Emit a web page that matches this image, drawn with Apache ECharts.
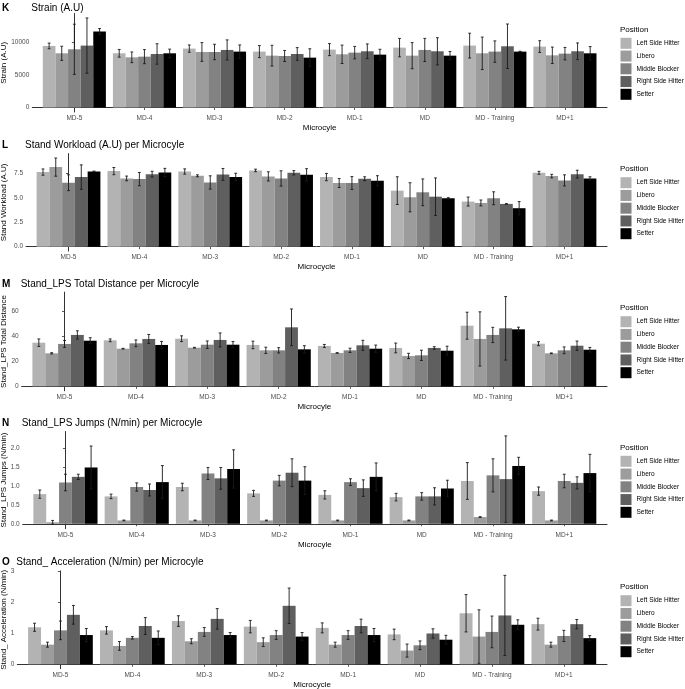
<!DOCTYPE html>
<html><head><meta charset="utf-8">
<script src="https://cdn.jsdelivr.net/npm/echarts@6.0.0/dist/echarts.min.js"></script>
<style>html,body{margin:0;padding:0;background:#fff}#c{width:685px;height:689px}</style>
</head><body><div id="c"></div>
<script>
// ---------------- DATA ----------------
const categories = ['MD-5', 'MD-4', 'MD-3', 'MD-2', 'MD-1', 'MD', 'MD - Training', 'MD+1'];
const positions = ['Left Side Hitter', 'Libero', 'Middle Blocker', 'Right Side Hitter', 'Setter'];

// K: Strain (A.U) — rows = positions, cols = microcycles
const strainMean = [
  [9440, 8310, 9030, 8570, 8875, 9180, 9490, 9340],
  [8310, 7695, 8515, 7950, 8157, 7950, 8310, 8000],
  [8926, 7797, 8515, 7900, 8413, 8825, 8570, 8260],
  [9490, 8208, 8825, 8208, 8620, 8620, 9390, 8620],
  [11645, 8310, 8570, 7645, 8105, 7950, 8570, 8310]
];
const strainSd = [
  [435, 590, 560, 920, 925, 1410, 1900, 900],
  [1080, 820, 1435, 1590, 1410, 2000, 2485, 1260],
  [3845, 1080, 1180, 845, 950, 1770, 1640, 950],
  [4235, 1565, 1540, 975, 1130, 2080, 3410, 1280],
  [460, 640, 1025, 1360, 820, 640, 50, 1030]
];
const strainTicks = [0, 5000, 10000];
const strainTickLabels = ['0', '5000', '10000'];

// L: Stand Workload (A.U)
const workloadMean = [
  [7.64, 7.74, 7.70, 7.81, 7.13, 5.74, 4.62, 7.57],
  [8.15, 6.99, 7.26, 7.20, 6.52, 5.06, 4.48, 7.23],
  [6.55, 6.92, 6.58, 6.99, 6.52, 5.57, 4.96, 6.79],
  [7.13, 7.43, 7.40, 7.57, 6.96, 5.12, 4.38, 7.43],
  [7.70, 7.60, 7.13, 7.36, 6.75, 4.96, 3.94, 6.99]
];
const workloadSd = [
  [0.32, 0.37, 0.27, 0.13, 0.37, 1.42, 0.46, 0.15],
  [0.93, 0.24, 0.10, 0.47, 0.46, 1.49, 0.30, 0.18],
  [0.81, 0.68, 0.68, 0.78, 0.66, 1.37, 0.66, 0.57],
  [1.25, 0.29, 0.61, 0.22, 0.20, 1.92, 0.03, 0.40],
  [0.04, 0.42, 0.39, 0.63, 0.52, 0.06, 0.68, 0.17]
];
const workloadTicks = [0, 2.5, 5, 7.5];
const workloadTickLabels = ['0.0', '2.5', '5.0', '7.5'];

// M: Stand_LPS Total Distance
const distanceMean = [
  [34.9, 36.8, 38.1, 33.1, 32.3, 30.7, 48.5, 34.1],
  [26.4, 30.1, 30.9, 28.8, 26.7, 24.3, 37.9, 26.4],
  [33.9, 34.4, 33.3, 28.8, 28.8, 24.8, 41.1, 28.8],
  [41.1, 37.9, 37.1, 47.2, 32.8, 30.7, 46.4, 32.5],
  [36.5, 33.1, 33.3, 29.6, 30.1, 28.5, 45.6, 29.3]
];
const distanceSd = [
  [3.0, 1.1, 2.3, 3.0, 1.2, 3.9, 10.8, 1.6],
  [0.5, 0.3, 0.3, 2.5, 0.2, 2.1, 21.7, 0.3],
  [2.8, 2.7, 3.0, 2.1, 1.7, 4.1, 6.1, 2.7],
  [3.3, 3.6, 5.6, 14.7, 4.0, 1.0, 25.4, 3.7],
  [2.4, 2.8, 2.5, 2.9, 2.9, 3.6, 1.7, 1.8]
];
const distanceTicks = [0, 20, 40, 60];
const distanceTickLabels = ['0', '20', '40', '60'];

// N: Stand_LPS Jumps (N/min)
const jumpsMean = [
  [0.79, 0.73, 0.98, 0.81, 0.77, 0.71, 1.14, 0.87],
  [0.04, 0.09, 0.09, 0.09, 0.09, 0.09, 0.18, 0.09],
  [1.10, 0.98, 1.34, 1.15, 1.11, 0.73, 1.29, 1.14],
  [1.25, 0.90, 1.21, 1.36, 0.95, 0.73, 1.19, 1.09],
  [1.50, 1.11, 1.46, 1.15, 1.25, 0.94, 1.54, 1.35]
];
const jumpsSd = [
  [0.11, 0.06, 0.10, 0.08, 0.11, 0.10, 0.49, 0.11],
  [0.05, 0.01, 0.01, 0.01, 0.01, 0.01, 0.01, 0.01],
  [0.22, 0.11, 0.16, 0.14, 0.09, 0.10, 0.44, 0.18],
  [0.07, 0.16, 0.29, 0.37, 0.22, 0.23, 1.15, 0.16],
  [0.57, 0.44, 0.51, 0.37, 0.37, 0.22, 0.23, 0.50]
];
const jumpsTicks = [0, 0.5, 1, 1.5, 2];
const jumpsTickLabels = ['0.0', '0.5', '1.0', '1.5', '2.0'];

// O: Stand_ Acceleration (N/min)
const accelMean = [
  [1.19, 1.09, 1.39, 1.21, 1.17, 0.96, 1.64, 1.29],
  [0.63, 0.59, 0.74, 0.71, 0.63, 0.44, 0.89, 0.63],
  [1.09, 0.85, 1.04, 0.94, 0.94, 0.61, 1.04, 0.91],
  [1.59, 1.23, 1.46, 1.88, 1.23, 0.99, 1.57, 1.29],
  [0.94, 0.85, 0.94, 0.89, 0.94, 0.79, 1.27, 0.84]
];
const accelSd = [
  [0.13, 0.12, 0.17, 0.20, 0.16, 0.17, 0.60, 0.19],
  [0.08, 0.14, 0.08, 0.14, 0.08, 0.21, 0.86, 0.08],
  [0.30, 0.04, 0.14, 0.14, 0.14, 0.14, 0.51, 0.18],
  [0.30, 0.27, 0.33, 0.57, 0.22, 0.15, 1.29, 0.15],
  [0.21, 0.22, 0.08, 0.13, 0.21, 0.14, 0.16, 0.08]
];
const accelTicks = [0, 1, 2, 3];
const accelTickLabels = ['0', '1', '2', '3'];

// ---------------- STYLE / LAYOUT ----------------
const colors = ['#B3B3B3', '#9C9C9C', '#828282', '#5F5F5F', '#000000'];
const FONT = '"Liberation Sans", Arial, Helvetica, sans-serif';
const W = 685, H = 689;
const plotRight = 607;

const panels = [
  {tag: 'K', title: 'Strain (A.U)', yName: 'Strain (A.U)', xName: 'Microcyle',
   mean: strainMean, sd: strainSd, ticks: strainTicks, tickLabels: strainTickLabels,
   left: 32.3, top: 13.5, axisY: 112, titleY: 7, legTitleY: 29.3, legTop: 37.8},
  {tag: 'L', title: 'Stand Workload (A.U) per Microcyle', yName: 'Stand Workload (A.U)', xName: 'Microcycle',
   mean: workloadMean, sd: workloadSd, ticks: workloadTicks, tickLabels: workloadTickLabels,
   left: 26, top: 153.6, axisY: 251.1, titleY: 144.3, legTitleY: 168.3, legTop: 177.2},
  {tag: 'M', title: 'Stand_LPS Total Distance per Microcyle', yName: 'Stand_LPS Total Distance', xName: 'Microcyle',
   mean: distanceMean, sd: distanceSd, ticks: distanceTicks, tickLabels: distanceTickLabels,
   left: 21.7, top: 292.1, axisY: 390.8, titleY: 283.3, legTitleY: 307.7, legTop: 316.2},
  {tag: 'N', title: 'Stand_LPS Jumps (N/min) per Microcyle', yName: 'Stand_LPS Jumps (N/min)', xName: 'Microcyle',
   mean: jumpsMean, sd: jumpsSd, ticks: jumpsTicks, tickLabels: jumpsTickLabels,
   left: 22.7, top: 431.5, axisY: 528.6, titleY: 422.3, legTitleY: 447.3, legTop: 455.8},
  {tag: 'O', title: 'Stand_ Acceleration (N/min) per Microcyle', yName: 'Stand_ Acceleration (N/min)', xName: 'Microcycle',
   mean: accelMean, sd: accelSd, ticks: accelTicks, tickLabels: accelTickLabels,
   left: 17.3, top: 570.9, axisY: 668.7, titleY: 561.7, legTitleY: 586.7, legTop: 595.2}
];

const BAR_W = 0.18;          // dodge width 0.9 / 5
const CAP_HALF = 0.02;
const offsets = [-0.36, -0.18, 0, 0.18, 0.36];

function yRange(mean, sd) {
  let hi = 0, lo = 0;
  for (let k = 0; k < mean.length; k++) for (let i = 0; i < mean[k].length; i++) {
    hi = Math.max(hi, mean[k][i] + sd[k][i], mean[k][i]);
    lo = Math.min(lo, mean[k][i] - sd[k][i]);
  }
  const r = hi - lo;
  return [lo - 0.05 * r, hi + 0.05 * r];
}

function makeRender(k) {
  return function (params, api) {
    const x = api.value(0) + offsets[k];
    const m = api.value(1), s = api.value(2);
    const top = api.coord([x, m]);
    const base = api.coord([x, 0]);
    const hi = api.coord([x, m + s]);
    const lo = api.coord([x, m - s]);
    const w = api.size([BAR_W, 0])[0];
    const c = api.size([CAP_HALF, 0])[0];
    const es = {stroke: '#1a1a1a', lineWidth: 0.9};
    return {
      type: 'group',
      children: [
        {type: 'rect', shape: {x: top[0] - w / 2, y: Math.min(top[1], base[1]), width: w, height: Math.abs(base[1] - top[1])},
         style: {fill: colors[k]}},
        {type: 'line', shape: {x1: hi[0], y1: hi[1], x2: lo[0], y2: lo[1]}, style: es},
        {type: 'line', shape: {x1: hi[0] - c, y1: hi[1], x2: hi[0] + c, y2: hi[1]}, style: es},
        {type: 'line', shape: {x1: lo[0] - c, y1: lo[1], x2: lo[0] + c, y2: lo[1]}, style: es}
      ]
    };
  };
}

const option = {
  animation: false,
  backgroundColor: '#ffffff',
  textStyle: {fontFamily: FONT},
  title: [], legend: [], grid: [], xAxis: [], yAxis: [], series: []
};

const catIdx = categories.map((_, i) => i);

panels.forEach((p, pi) => {
  const [ymin, ymax] = yRange(p.mean, p.sd);
  option.grid.push({left: p.left, right: W - plotRight, top: p.top, bottom: H - p.axisY,
    containLabel: false, outerBoundsMode: 'none'});
  option.title.push({text: p.tag, left: 2, top: p.titleY - 4, padding: 0,
    textStyle: {fontFamily: FONT, fontSize: 10, fontWeight: 'bold', color: '#000'}});
  option.title.push({text: p.title, left: p.left - 1, top: p.titleY - 4, padding: 0,
    textStyle: {fontFamily: FONT, fontSize: 10, fontWeight: 'normal', color: '#000'}});
  option.title.push({text: 'Position', left: 620, top: p.legTitleY - 4, padding: 0,
    textStyle: {fontFamily: FONT, fontSize: 8, fontWeight: 'normal', color: '#000'}});
  option.legend.push({
    data: positions, orient: 'vertical', left: 620.5, top: p.legTop, padding: 0,
    itemWidth: 11, itemHeight: 11, itemGap: 1.75, icon: 'rect', selectedMode: false,
    textStyle: {fontFamily: FONT, fontSize: 6.5, color: '#000', padding: [0, 0, 0, 0]}
  });
  option.xAxis.push({
    type: 'value', gridIndex: pi, min: -0.6, max: 7.6,
    name: p.xName, nameLocation: 'middle', nameGap: 12, nameMoveOverlap: false,
    nameTextStyle: {fontFamily: FONT, fontSize: 8, color: '#000'},
    axisLine: {show: true, lineStyle: {color: '#333', width: 1}},
    axisTick: {show: true, customValues: catIdx, length: 2.5, lineStyle: {color: '#333', width: 0.8}},
    axisLabel: {show: true, customValues: catIdx, margin: 3, fontFamily: FONT, fontSize: 6.5, color: '#4d4d4d',
      formatter: v => categories[Math.round(v)]},
    splitLine: {show: false}
  });
  option.yAxis.push({
    type: 'value', gridIndex: pi, min: ymin, max: ymax,
    name: p.yName, nameLocation: 'middle', nameGap: p.left - 8, nameMoveOverlap: false,
    nameTextStyle: {fontFamily: FONT, fontSize: 8, color: '#000'},
    axisLine: {show: true, lineStyle: {color: '#333', width: 1}},
    axisTick: {show: true, customValues: p.ticks, length: 2.5, lineStyle: {color: '#333', width: 0.8}},
    axisLabel: {show: true, customValues: p.ticks, margin: 3, fontFamily: FONT, fontSize: 6.5, color: '#4d4d4d',
      formatter: v => { const j = p.ticks.findIndex(t => Math.abs(t - v) < 1e-9); return j >= 0 ? p.tickLabels[j] : ''; }},
    splitLine: {show: false}
  });
  positions.forEach((pos, k) => {
    option.series.push({
      type: 'custom', name: pos, xAxisIndex: pi, yAxisIndex: pi,
      itemStyle: {color: colors[k]},
      encode: {x: 0, y: 1},
      renderItem: makeRender(k),
      data: categories.map((c, i) => [i, p.mean[k][i], p.sd[k][i]])
    });
  });
});

const chart = echarts.init(document.getElementById('c'), null, {renderer: 'canvas', width: W, height: H});
chart.setOption(option);
</script>
</body></html>
